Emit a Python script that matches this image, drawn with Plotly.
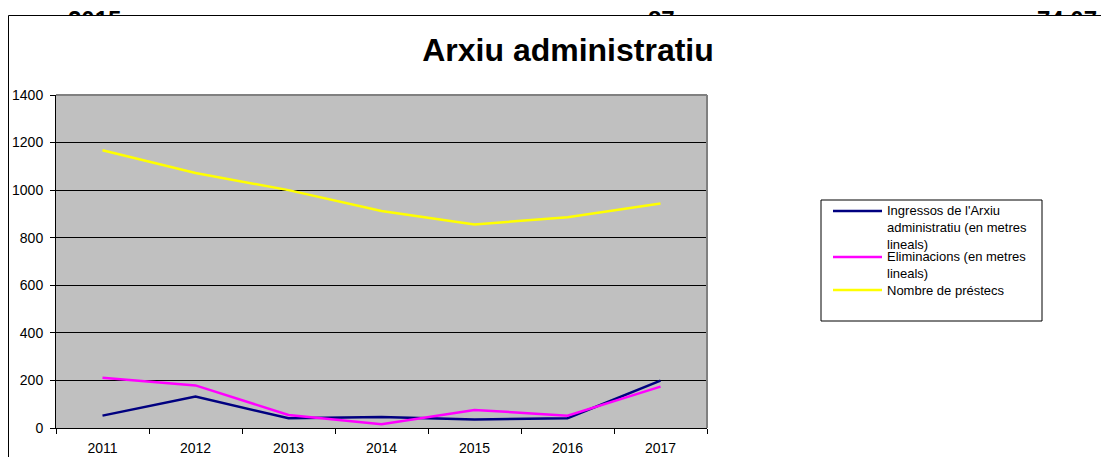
import plotly.graph_objects as go

W, H = 1101, 457

years = ["2011", "2012", "2013", "2014", "2015", "2016", "2017"]
ingressos = [52, 132, 41, 46, 36, 41, 199]
eliminacions = [211, 179, 55, 16, 76, 52, 174]
prestecs = [1168, 1072, 1000, 912, 856, 886, 944]

series_names = [
    "Ingressos de l'Arxiu administratiu (en metres lineals)",
    "Eliminacions (en metres lineals)",
    "Nombre de préstecs",
]
legend_labels = [
    "Ingressos de l'Arxiu<br>administratiu (en metres<br>lineals)",
    "Eliminacions (en metres<br>lineals)",
    "Nombre de préstecs",
]
series_colors = ["#000080", "#FF00FF", "#FFFF00"]
series_values = [ingressos, eliminacions, prestecs]

top_labels = ["2015", "87", "74,07"]
y_ticks = [0, 200, 400, 600, 800, 1000, 1200, 1400]

FONT = "Liberation Sans, Arial, sans-serif"


def px(x):
    return x / W


def py(y):
    return 1 - y / H


fig = go.Figure()
for name, vals, col in zip(series_names, series_values, series_colors):
    fig.add_trace(go.Scatter(x=years, y=vals, name=name, mode="lines",
                             line=dict(color=col, width=2.5), showlegend=False))

# plot area
x0p, x1p, y0p, y1p = 56, 707, 95, 428

shapes = []
# outer chart frame
shapes.append(dict(type="rect", xref="paper", yref="paper",
                   x0=px(8.5), x1=1.2, y0=-0.2, y1=py(15.5),
                   line=dict(color="black", width=1), layer="below"))
# gray top/right plot border
shapes.append(dict(type="line", xref="paper", yref="paper",
                   x0=px(x0p), x1=px(x1p), y0=py(y0p), y1=py(y0p),
                   line=dict(color="#808080", width=2), layer="above"))
shapes.append(dict(type="line", xref="paper", yref="paper",
                   x0=px(x1p), x1=px(x1p), y0=py(y0p), y1=py(y1p),
                   line=dict(color="#808080", width=2), layer="above"))
# legend box
lx0, lx1, ly0, ly1 = 821, 1042, 200, 321
shapes.append(dict(type="rect", xref="paper", yref="paper",
                   x0=px(lx0), x1=px(lx1), y0=py(ly1), y1=py(ly0),
                   line=dict(color="black", width=1), fillcolor="white", layer="above"))

annotations = []
leg_line_y = [211, 257, 290]
LH = 16
for lab, col, yl in zip(legend_labels, series_colors, leg_line_y):
    shapes.append(dict(type="line", xref="paper", yref="paper",
                       x0=px(833), x1=px(882), y0=py(yl), y1=py(yl),
                       line=dict(color=col, width=2.5), layer="above"))
    n = lab.count("<br>") + 1
    annotations.append(dict(text=lab, xref="paper", yref="paper",
                            x=px(885), xanchor="left",
                            y=py(yl + (n - 1) * LH / 2), yanchor="middle",
                            align="left", showarrow=False,
                            font=dict(family=FONT, size=13, color="black")))

# clipped numbers above the frame
for lab, xc in zip(top_labels, [94, 661, 1067]):
    annotations.append(dict(text="<b>%s</b>" % lab, xref="paper", yref="paper",
                            x=px(xc), xanchor="center", y=py(4), yanchor="top",
                            showarrow=False,
                            font=dict(family=FONT, size=24, color="black")))
# white mask below the frame's top edge
annotations.append(dict(text=" ", xref="paper", yref="paper",
                        x=px(9.5), xanchor="left", y=py(16), yanchor="top",
                        width=1090, height=16, bgcolor="white", borderpad=0,
                        borderwidth=0, showarrow=False,
                        font=dict(family=FONT, size=10)))

fig.update_layout(
    width=W, height=H, autosize=False,
    margin=dict(l=0, r=0, t=0, b=0, autoexpand=False),
    paper_bgcolor="white", plot_bgcolor="#C0C0C0",
    font=dict(family=FONT, color="black"),
    title=dict(text="<b>Arxiu administratiu</b>", x=px(568), xanchor="center",
               y=py(50), yanchor="middle",
               font=dict(family=FONT, size=32, color="black")),
    xaxis=dict(domain=[px(x0p), px(x1p)], type="category", range=[-0.5, 6.5],
               tickson="boundaries", ticks="outside", ticklen=5, tickcolor="black",
               showline=True, linecolor="black", linewidth=1, showgrid=False,
               ticklabelstandoff=7, automargin=False,
               tickfont=dict(family=FONT, size=14, color="black"), fixedrange=True),
    yaxis=dict(domain=[py(y1p), py(y0p)], range=[0, 1400], tickvals=y_ticks,
               ticks="outside", ticklen=5, tickcolor="black",
               showline=True, linecolor="black", linewidth=1,
               showgrid=True, gridcolor="black", gridwidth=1, zeroline=False,
               ticklabelstandoff=4, automargin=False,
               tickfont=dict(family=FONT, size=14, color="black"), fixedrange=True),
    shapes=shapes, annotations=annotations,
)

fig.write_html("out.html", config={"displayModeBar": False},
               post_script="document.body.style.margin='0';document.body.style.overflow='hidden';")
